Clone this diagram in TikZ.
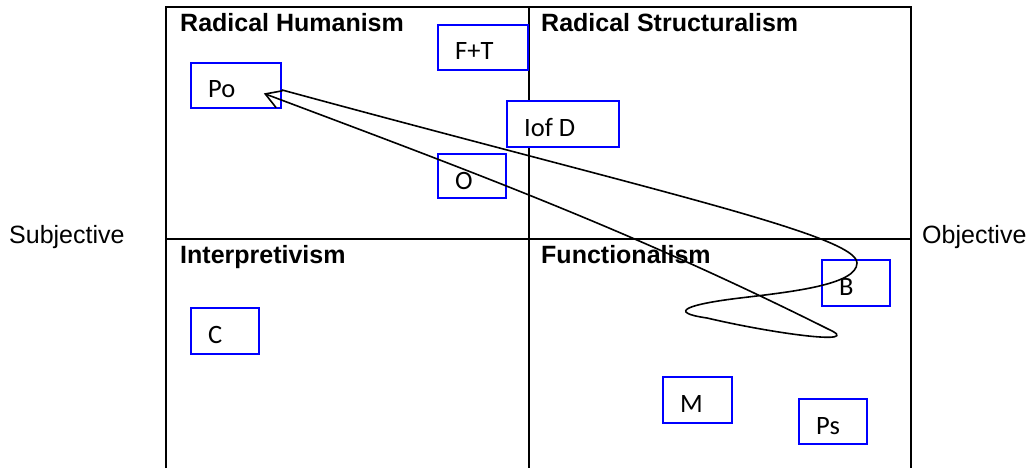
\documentclass[tikz,border=0pt]{standalone}
\usepackage{fontspec}
\setmainfont{Liberation Sans}
\newfontfamily\boxfont{Carlito}
\usetikzlibrary{arrows.meta,positioning,calc}

\begin{document}
\begin{tikzpicture}[
  x=1pt, y=1pt,
  frame/.style={line width=2pt, black},
  qlabel/.style={anchor=base west, inner sep=0pt, font=\fontsize{25}{30}\selectfont\bfseries},
  side/.style={anchor=base west, inner sep=0pt, font=\fontsize{25}{30}\selectfont},
  tbox/.style={draw=blue, line width=1.8pt, fill=white, anchor=north west, inner sep=0pt},
  tlbl/.style={anchor=base west, inner sep=0pt, font=\boxfont\fontsize{26.5}{31}\selectfont},
  curve/.style={line width=1.6pt, black}
]
\useasboundingbox (0,0) rectangle (1032,-468);

% -------- Quadrant frame --------
\draw[frame] (166,-468) -- (166,-7) -- (911,-7) -- (911,-468);
\draw[frame] (529,-7) -- (529,-468);
\draw[frame] (166,-239) -- (911,-239);

% -------- Quadrant labels --------
\node[qlabel] (rh) at (180,-32) {Radical Humanism};
\node[qlabel] (rs) at (541,-32) {Radical Structuralism};
\node[qlabel] (ip) at (180,-263) {Interpretivism};
\node[qlabel] (fn) at (541,-263) {Functionalism};

\node[side] (subj) at (9,-243) {Subjective};
\node[side] (obj) at (922,-243) {Objective};

% -------- Text boxes --------
\node[tbox, minimum width=90, minimum height=45] (po) at (190,-62) {};
\node[tlbl] (polbl) at ([shift={(18,-36)}]po.north west) {Po};

\node[tbox, minimum width=90, minimum height=45] (ft) at (437,-24) {};
\node[tlbl] (ftlbl) at ([shift={(18,-36)}]ft.north west) {F+T};

\node[tbox, minimum width=112, minimum height=46] (iofd) at (506,-100) {};
\node[tlbl] (iofdlbl) at ([shift={(18,-36)}]iofd.north west) {Iof D};

\node[tbox, minimum width=68, minimum height=44] (o) at (437,-153) {};
\node[tlbl] (olbl) at ([shift={(18,-36)}]o.north west) {O};

\node[tbox, minimum width=68, minimum height=46] (c) at (190,-307) {};
\node[tlbl] (clbl) at ([shift={(18,-36)}]c.north west) {C};

\node[tbox, minimum width=68, minimum height=46] (b) at (821,-259) {};
\node[tlbl] (blbl) at ([shift={(18,-36)}]b.north west) {B};

\node[tbox, minimum width=69, minimum height=46] (m) at (662,-376) {};
\node[tlbl] (mlbl) at ([shift={(18,-36)}]m.north west) {M};

\node[tbox, minimum width=68, minimum height=45] (ps) at (798,-398) {};
\node[tlbl] (pslbl) at ([shift={(18,-36)}]ps.north west) {Ps};

% -------- Loop back to Po --------
\coordinate (potip) at ([shift={(-18,-8)}]po.east);
\draw[curve, -{Straight Barb[length=15pt,width=18pt]}]
  ([yshift=-4.5]po.east) .. controls (650,-190) and (857,-235) .. (857,-263)
  .. controls (857,-285) and (790,-292) .. (740,-298)
  .. controls (690,-304) and (665,-312) .. (707,-318)
  .. controls (775,-334) and (866,-346) .. (828,-329)
  .. controls (626,-228) and (462,-168) .. (potip);

\end{tikzpicture}
\end{document}
